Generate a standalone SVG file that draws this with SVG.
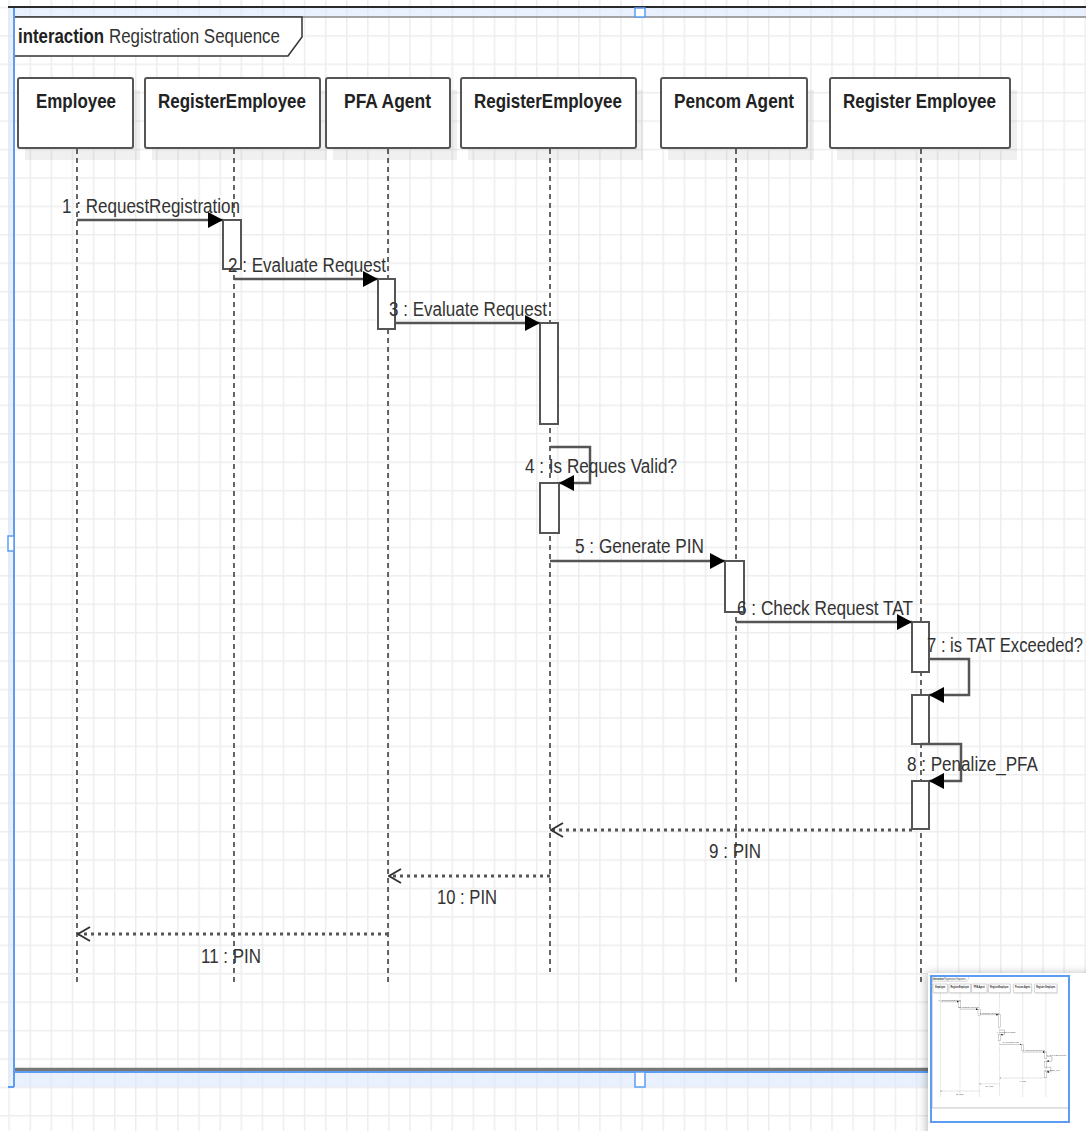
<svg xmlns="http://www.w3.org/2000/svg" xmlns:xlink="http://www.w3.org/1999/xlink" width="1086" height="1131" viewBox="0 0 1086 1131">
<defs>
<style>
.hdr{font-family:"Liberation Sans",Arial,sans-serif;font-weight:bold;font-size:21px;fill:#222}
.ttl{font-family:"Liberation Sans",Arial,sans-serif;font-weight:normal;font-size:21px;fill:#333}
.msg{font-family:"Liberation Sans",Arial,sans-serif;font-size:19.5px;fill:#333}
.box{fill:#fff;stroke:#555;stroke-width:2}
.shadow{fill:#000;fill-opacity:0.06}
.life{stroke:#333;stroke-width:1.5;stroke-dasharray:5 4;fill:none}
.act{fill:#fff;stroke:#555;stroke-width:2}
.call{stroke:#555;stroke-width:2.5;fill:none;marker-end:url(#filled)}
.ret{stroke:#555;stroke-width:3;stroke-dasharray:3 4;fill:none;marker-end:url(#open)}
</style>
<pattern id="grid" patternUnits="userSpaceOnUse" x="8.4" y="6.7" width="21.1" height="28.42">
<path d="M0.75,0 V28.42 M0,0.75 H21.1" stroke="#ededed" stroke-width="1.5" fill="none"/>
</pattern>
<marker id="filled" viewBox="0 0 15 16" refX="15" refY="8" markerWidth="15" markerHeight="16" markerUnits="userSpaceOnUse" orient="auto">
<path d="M0,0 L15,8 L0,16 Z" fill="#000"/>
</marker>
<marker id="open" viewBox="0 0 14 16" refX="13" refY="8" markerWidth="14" markerHeight="16" markerUnits="userSpaceOnUse" orient="auto">
<path d="M1,1 L13,8 L1,15" fill="none" stroke="#333" stroke-width="2"/>
</marker>
<filter id="panelShadow" x="-20%" y="-20%" width="140%" height="140%">
<feDropShadow dx="-2" dy="0" stdDeviation="4" flood-color="#000" flood-opacity="0.25"/>
</filter>
</defs>

<rect x="0" y="0" width="1086" height="1131" fill="#fff"/>
<rect x="0" y="0" width="1086" height="1131" fill="url(#grid)"/>

<g id="selection">
<path d="M8,8 H1086 V1087 H8 Z M14,17 V1072 H1086 V17 Z" fill-rule="evenodd" fill="#d6e6fc" fill-opacity="0.55"/>
<line x1="8" y1="7" x2="1086" y2="7" stroke="#2a2a2a" stroke-width="2"/>
</g>

<g id="diagram">
<g id="frame">
<line x1="14" y1="17" x2="1100" y2="17" stroke="#888" stroke-width="1.5"/>
<line x1="14" y1="1069.5" x2="1100" y2="1069.5" stroke="#777" stroke-width="3.5"/>
<line x1="14" y1="17" x2="14" y2="1070" stroke="#777" stroke-width="2"/>
<polygon points="14,17 302,17 302,37 288,56 14,56" fill="#fff" stroke="#333" stroke-width="1.5"/>
<text transform="scale(0.805 1)" x="22.36" y="43"><tspan class="hdr" textLength="106.8" lengthAdjust="spacingAndGlyphs">interaction</tspan><tspan class="ttl" x="135.4" textLength="212.4" lengthAdjust="spacingAndGlyphs">Registration Sequence</tspan></text>
</g>

<g id="node-employee">
<rect class="shadow" x="25" y="90" width="115" height="70"/>
<rect class="box" x="18" y="78" width="115" height="70" rx="2"/>
<text class="hdr" x="36" y="108" textLength="80" lengthAdjust="spacingAndGlyphs">Employee</text>
<line class="life" x1="77" y1="149" x2="77" y2="985"/>
</g>

<g id="node-registeremployee-1">
<rect class="shadow" x="152" y="90" width="175" height="70"/>
<rect class="box" x="145" y="78" width="175" height="70" rx="2"/>
<text class="hdr" x="158" y="108" textLength="148" lengthAdjust="spacingAndGlyphs">RegisterEmployee</text>
<line class="life" x1="234" y1="149" x2="234" y2="985"/>
<rect class="act" x="223" y="220" width="18" height="49"/>
</g>

<g id="node-pfa-agent">
<rect class="shadow" x="333" y="90" width="124" height="70"/>
<rect class="box" x="326" y="78" width="124" height="70" rx="2"/>
<text class="hdr" x="344" y="108" textLength="87" lengthAdjust="spacingAndGlyphs">PFA Agent</text>
<line class="life" x1="388" y1="149" x2="388" y2="985"/>
<rect class="act" x="378" y="279" width="17" height="50"/>
</g>

<g id="node-registeremployee-2">
<rect class="shadow" x="468" y="90" width="175" height="70"/>
<rect class="box" x="461" y="78" width="175" height="70" rx="2"/>
<text class="hdr" x="474" y="108" textLength="148" lengthAdjust="spacingAndGlyphs">RegisterEmployee</text>
<line class="life" x1="550" y1="149" x2="550" y2="972"/>
<rect class="act" x="540" y="323" width="18" height="101"/>
<rect class="act" x="540" y="483" width="19" height="50"/>
</g>

<g id="node-pencom-agent">
<rect class="shadow" x="668" y="90" width="146" height="70"/>
<rect class="box" x="661" y="78" width="146" height="70" rx="2"/>
<text class="hdr" x="674" y="108" textLength="120" lengthAdjust="spacingAndGlyphs">Pencom Agent</text>
<line class="life" x1="736" y1="149" x2="736" y2="985"/>
<rect class="act" x="725" y="561" width="19" height="51"/>
</g>

<g id="node-register-employee">
<rect class="shadow" x="837" y="90" width="180" height="70"/>
<rect class="box" x="830" y="78" width="180" height="70" rx="2"/>
<text class="hdr" x="843" y="108" textLength="153" lengthAdjust="spacingAndGlyphs">Register Employee</text>
<line class="life" x1="921" y1="149" x2="921" y2="985"/>
<rect class="act" x="912" y="622" width="17" height="50"/>
<rect class="act" x="912" y="695" width="17" height="49"/>
<rect class="act" x="912" y="781" width="17" height="48"/>
</g>

<g id="connectors">
<path class="call" d="M77,220 H223"/>
<path class="call" d="M234,279 H378"/>
<path class="call" d="M395,323 H540"/>
<path class="call" d="M550,447 H590 V483 H559"/>
<path class="call" d="M550,561 H725"/>
<path class="call" d="M736,622 H912"/>
<path class="call" d="M929,659 H969 V695 H929"/>
<path class="call" d="M921,744 H961 V781 H929"/>
<path class="ret" d="M912,830 H551"/>
<path class="ret" d="M550,876 H389"/>
<path class="ret" d="M388,934 H78"/>
<text class="msg" x="62" y="213" textLength="178" lengthAdjust="spacingAndGlyphs">1 : RequestRegistration</text>
<text class="msg" x="228" y="272" textLength="158" lengthAdjust="spacingAndGlyphs">2 : Evaluate Request</text>
<text class="msg" x="389" y="316" textLength="158" lengthAdjust="spacingAndGlyphs">3 : Evaluate Request</text>
<text class="msg" x="525" y="473" textLength="152" lengthAdjust="spacingAndGlyphs">4 : Is Reques Valid?</text>
<text class="msg" x="575" y="553" textLength="129" lengthAdjust="spacingAndGlyphs">5 : Generate PIN</text>
<text class="msg" x="737" y="615" textLength="176" lengthAdjust="spacingAndGlyphs">6 : Check Request TAT</text>
<text class="msg" transform="translate(927 652) scale(0.88 1)" x="0" y="0" textLength="177.3" lengthAdjust="spacingAndGlyphs">7 : is TAT Exceeded?</text>
<text class="msg" x="907" y="771" textLength="131" lengthAdjust="spacingAndGlyphs">8 : Penalize_PFA</text>
<text class="msg" x="709" y="858" textLength="52" lengthAdjust="spacingAndGlyphs">9 : PIN</text>
<text class="msg" x="437" y="904" textLength="60" lengthAdjust="spacingAndGlyphs">10 : PIN</text>
<text class="msg" x="201" y="963" textLength="60" lengthAdjust="spacingAndGlyphs">11 : PIN</text>
</g>
</g>

<g id="selection-overlay">
<line x1="14" y1="8" x2="14" y2="1087" stroke="#5d9cf5" stroke-width="2"/>
<line x1="14" y1="1072" x2="1086" y2="1072" stroke="#5d9cf5" stroke-width="2"/>
<line x1="8" y1="1087" x2="14" y2="1087" stroke="#5d9cf5" stroke-width="2"/>
<rect x="635" y="8" width="10" height="9" fill="#fff" stroke="#5d9cf5" stroke-width="1.5"/>
<rect x="635" y="1072" width="10" height="15" fill="#fff" stroke="#5d9cf5" stroke-width="1.5"/>
<rect x="8" y="536" width="6" height="15" fill="#fff" stroke="#5d9cf5" stroke-width="1.5"/>
</g>

<g id="minimap">
<rect x="928" y="973" width="170" height="170" fill="#fff" filter="url(#panelShadow)"/>
<use href="#diagram" xlink:href="#diagram" transform="translate(930.75 974.25) scale(0.125)"/>
<rect x="931" y="976" width="138" height="146" fill="none" stroke="#5d9cf5" stroke-width="2"/>
</g>
</svg>
